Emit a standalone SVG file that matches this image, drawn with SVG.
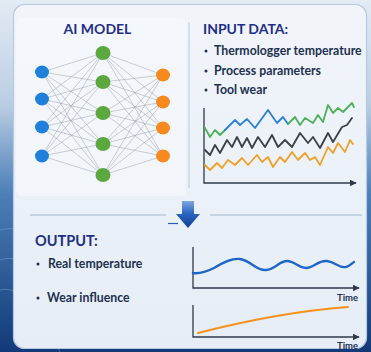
<svg xmlns="http://www.w3.org/2000/svg" width="371" height="352" viewBox="0 0 371 352">
<defs>
<linearGradient id="bg" x1="0" y1="0" x2="0" y2="1">
<stop offset="0" stop-color="#e3ebf4"/>
<stop offset="0.3" stop-color="#b9cde2"/>
<stop offset="0.55" stop-color="#4c7fb8"/>
<stop offset="1" stop-color="#123a78"/>
</linearGradient>
<linearGradient id="panel" x1="0" y1="0" x2="0" y2="1">
<stop offset="0" stop-color="#f1f5fa"/>
<stop offset="1" stop-color="#e6edf6"/>
</linearGradient>
<linearGradient id="arr" x1="0" y1="0" x2="0" y2="1">
<stop offset="0" stop-color="#7fa6de"/>
<stop offset="0.45" stop-color="#2a66c4"/>
<stop offset="1" stop-color="#123f96"/>
</linearGradient>
<marker id="ah" viewBox="0 0 10 10" refX="9" refY="5" markerWidth="7" markerHeight="7" orient="auto" markerUnits="userSpaceOnUse">
<path d="M0,0 L10,5 L0,10 z" fill="#2f3a4a"/>
</marker>
<style>
.title{font-family:Lato,"Open Sans","Liberation Sans",sans-serif;font-weight:700;fill:#1f2f86}
.item{font-family:Lato,"Open Sans","Liberation Sans",sans-serif;font-weight:700;fill:#22304f;font-size:12.3px}
.time{font-family:Lato,"Open Sans","Liberation Sans",sans-serif;font-weight:700;fill:#22304f;font-size:9.5px}
.edge{stroke:#8f969f;stroke-width:0.6;opacity:0.75;fill:none}
.axis{stroke:#2f3a4a;stroke-width:1.3;fill:none}
.sep{stroke:#b9c9dc;stroke-width:1.3}
.zz{fill:none;stroke-width:1.8;stroke-linejoin:round;stroke-linecap:round}
.in{fill:#1f80dc}
.hid{fill:#5aa83e}
.out{fill:#f68a1e}
.dot{fill:#22304f}
</style>
</defs>
<rect x="0" y="0" width="371" height="352" fill="url(#bg)"/>
<path d="M0,230 C40,220 80,260 140,300 M0,260 C30,250 60,290 100,330 M0,290 C20,285 40,310 60,352" stroke="#8fb4e0" stroke-width="0.8" fill="none" opacity="0.5"/>
<rect x="13.5" y="4.5" width="353" height="344" rx="11" fill="url(#panel)" stroke="#b6c9e0" stroke-width="1.2"/>

<g id="ai-model">
<rect x="16" y="18" width="170" height="178" rx="6" fill="#f5f8fc" opacity="0.7"/>
<text class="title" x="97.5" y="34" font-size="14" text-anchor="middle">AI MODEL</text>
<g id="connectors">
<path class="edge" d="M42,72L103,53M42,72L103,82M42,72L103,113M42,72L103,144M42,72L103,175
M42,99L103,53M42,99L103,82M42,99L103,113M42,99L103,144M42,99L103,175
M42,127L103,53M42,127L103,82M42,127L103,113M42,127L103,144M42,127L103,175
M42,156L103,53M42,156L103,82M42,156L103,113M42,156L103,144M42,156L103,175
M103,53L163,75M103,53L163,102M103,53L163,128M103,53L163,156
M103,82L163,75M103,82L163,102M103,82L163,128M103,82L163,156
M103,113L163,75M103,113L163,102M103,113L163,128M103,113L163,156
M103,144L163,75M103,144L163,102M103,144L163,128M103,144L163,156
M103,175L163,75M103,175L163,102M103,175L163,128M103,175L163,156"/>
</g>
<g id="input-layer">
<ellipse class="in" cx="42" cy="72" rx="7" ry="6.5"/>
<ellipse class="in" cx="42" cy="99" rx="7" ry="6.5"/>
<ellipse class="in" cx="42" cy="127" rx="7" ry="6.5"/>
<ellipse class="in" cx="42" cy="156" rx="7" ry="6.5"/>
</g>
<g id="hidden-layer">
<ellipse class="hid" cx="103" cy="53" rx="7.5" ry="7"/>
<ellipse class="hid" cx="103" cy="82" rx="7.5" ry="7"/>
<ellipse class="hid" cx="103" cy="113" rx="7.5" ry="7"/>
<ellipse class="hid" cx="103" cy="144" rx="7.5" ry="7"/>
<ellipse class="hid" cx="103" cy="175" rx="7.5" ry="7"/>
</g>
<g id="output-layer">
<ellipse class="out" cx="163" cy="75" rx="7" ry="6.5"/>
<ellipse class="out" cx="163" cy="102" rx="7" ry="6.5"/>
<ellipse class="out" cx="163" cy="128" rx="7" ry="6.5"/>
<ellipse class="out" cx="163" cy="156" rx="7" ry="6.5"/>
</g>
</g>

<g id="input-data">
<line x1="189" y1="22" x2="189" y2="188" stroke="#c3d0e0" stroke-width="1.2"/>
<text class="title" x="203" y="34" font-size="14">INPUT DATA:</text>
<circle class="dot" cx="206" cy="51" r="1.5"/>
<text class="item" x="214" y="55">Thermologger temperature</text>
<circle class="dot" cx="206" cy="71" r="1.5"/>
<text class="item" x="214" y="75">Process parameters</text>
<circle class="dot" cx="206" cy="90" r="1.5"/>
<text class="item" x="214" y="94">Tool wear</text>
<path class="axis" d="M204,108V183H356" marker-end="url(#ah)"/>
<polyline class="zz" stroke="#4caf5a" points="205,128 210,137 215,130 220,135 225,130"/>
<polyline class="zz" stroke="#2a7fd6" points="225,130 235,120 240,125 247,119 255,128 268,110 277,123 283,117 288,124"/>
<polyline class="zz" stroke="#4caf5a" points="288,124 295,117 300,125 305,118 313,123 318,115 323,122 328,105 333,113 338,108 343,112 352,103 354,107"/>
<polyline class="zz" stroke="#3b3f46" points="205,150 210,155 215,145 220,153 227,140 232,147 237,137 242,147 247,138 252,148 258,137 265,147 272,135 278,147 285,140 292,147 300,133 308,143 313,137 320,148 328,133 333,142 342,127 347,125 352,118"/>
<polyline class="zz" stroke="#f0a028" points="205,165 210,170 217,163 222,168 228,160 235,165 242,158 248,165 257,155 262,162 268,157 273,167 280,157 285,162 292,152 298,160 305,153 310,160 315,157 320,165 328,147 333,153 338,143 345,152 350,140 353,144"/>
</g>

<g id="divider">
<line class="sep" x1="30" y1="215" x2="166" y2="215"/>
<line class="sep" x1="210" y1="215" x2="362" y2="215"/>
<line x1="168" y1="223.5" x2="178" y2="223.5" stroke="#2a5fb8" stroke-width="1.2"/>
<path d="M182,201H194V214H200L188,228L176,214H182Z" fill="url(#arr)"/>
</g>

<g id="output">
<text class="title" x="35" y="246" font-size="14.5">OUTPUT:</text>
<circle class="dot" cx="38" cy="264" r="1.5"/>
<text class="item" x="48" y="268">Real temperature</text>
<circle class="dot" cx="38" cy="298" r="1.5"/>
<text class="item" x="47" y="302">Wear influence</text>
<path class="axis" d="M193,247V288H359" marker-end="url(#ah)"/>
<path d="M193,273C200,274 206,272 214,268C224,262 232,258 240,259C252,261 256,271 266,270C276,269 280,260 288,261C296,262 298,268 306,268C314,268 318,260 327,261C336,262 338,268 346,267C350,266 352,263 354,262" fill="none" stroke="#1f66c8" stroke-width="2.4" stroke-linecap="round"/>
<text class="time" x="337" y="301">Time</text>
<path class="axis" d="M193,305V337H359" marker-end="url(#ah)"/>
<path d="M198,333Q280,312 348,307" fill="none" stroke="#f5921e" stroke-width="2" stroke-linecap="round"/>
<text class="time" x="337" y="349">Time</text>
</g>
</svg>
